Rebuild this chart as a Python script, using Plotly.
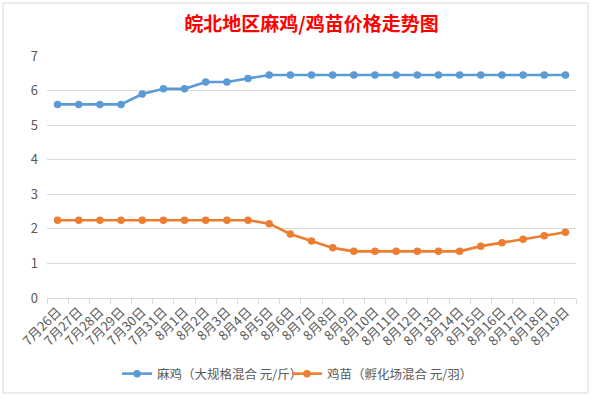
import plotly.graph_objects as go

dates = ["7月26日", "7月27日", "7月28日", "7月29日", "7月30日", "7月31日",
         "8月1日", "8月2日", "8月3日", "8月4日", "8月5日", "8月6日", "8月7日",
         "8月8日", "8月9日", "8月10日", "8月11日", "8月12日", "8月13日",
         "8月14日", "8月15日", "8月16日", "8月17日", "8月18日", "8月19日"]

maji = [5.6, 5.6, 5.6, 5.6, 5.9, 6.05, 6.05, 6.25, 6.25, 6.35, 6.45, 6.45, 6.45,
        6.45, 6.45, 6.45, 6.45, 6.45, 6.45, 6.45, 6.45, 6.45, 6.45, 6.45, 6.45]

jimiao = [2.25, 2.25, 2.25, 2.25, 2.25, 2.25, 2.25, 2.25, 2.25, 2.25, 2.15, 1.85, 1.65,
          1.45, 1.35, 1.35, 1.35, 1.35, 1.35, 1.35, 1.5, 1.6, 1.7, 1.8, 1.9]

name_maji = "麻鸡（大规格混合 元/斤）"
name_jimiao = "鸡苗（孵化场混合 元/羽）"
title_text = "皖北地区麻鸡/鸡苗价格走势图"

FONT = "Noto Sans CJK SC"

fig = go.Figure()
fig.add_trace(go.Scatter(x=dates, y=maji, name=name_maji, mode="lines+markers",
                         line=dict(color="#5B9BD5", width=2.6),
                         marker=dict(color="#5B9BD5", size=7.5), legend="legend"))
fig.add_trace(go.Scatter(x=dates, y=jimiao, name=name_jimiao, mode="lines+markers",
                         line=dict(color="#ED7D31", width=2.6),
                         marker=dict(color="#ED7D31", size=7.5), legend="legend2"))

shapes = [
    # chart border
    dict(type="rect", xref="paper", yref="paper", layer="below",
         x0=-44/529, x1=1+12/529, y0=-95/242, y1=1+53/242,
         line=dict(color="#d9d9d9", width=1), fillcolor="white"),
]

leg_common = dict(orientation="h", xanchor="left", y=-(374-298)/242, yanchor="middle",
                  font=dict(family=FONT, size=12.5, color="#595959"),
                  itemwidth=30, bgcolor="rgba(0,0,0,0)")

fig.update_layout(
    width=593, height=398,
    margin=dict(l=47, r=17, t=56, b=100, autoexpand=False),
    paper_bgcolor="white", plot_bgcolor="white",
    font=dict(family=FONT, color="#595959", size=12),
    title=dict(text=title_text, x=0.5, xref="paper", xanchor="center",
               y=1 - 24/398, yref="container", yanchor="middle",
               font=dict(family=FONT, size=19, color="#FF0000", weight="bold")),
    showlegend=True,
    legend=dict(x=(122-5-47)/529, **leg_common),
    legend2=dict(x=(292-5-47)/529, **leg_common),
    xaxis=dict(type="category", range=[-0.5, 24.5], tickangle=-45, automargin=False,
               showgrid=False, showline=True, linecolor="#d9d9d9", linewidth=1,
               ticks="outside", tickson="boundaries", ticklen=5, tickcolor="#d9d9d9",
               tickfont=dict(family=FONT, size=13, color="#595959")),
    yaxis=dict(range=[0, 7], dtick=1, showgrid=True, gridcolor="#d9d9d9", gridwidth=1,
               zeroline=False, showline=False, ticks="", ticklabelstandoff=8, automargin=False,
               tickfont=dict(family=FONT, size=13, color="#595959")),
    shapes=shapes,
)

fig.write_html("out.html", config={"displayModeBar": False},
               post_script="document.body.style.margin='0';document.body.style.overflow='hidden';")
